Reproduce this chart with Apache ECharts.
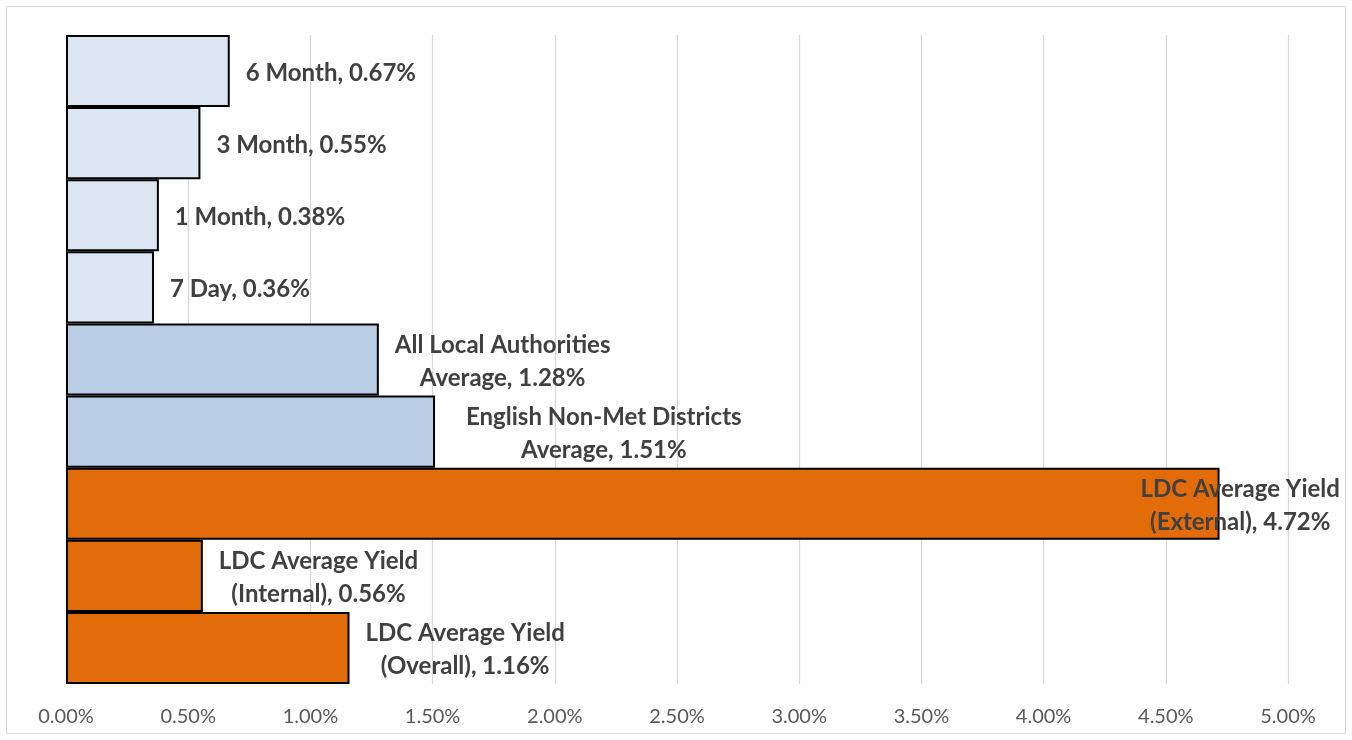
<!DOCTYPE html>
<html>
<head>
<meta charset="utf-8">
<script src="https://cdn.jsdelivr.net/npm/echarts@6/dist/echarts.min.js"></script>
<style>html,body{margin:0;padding:0;background:#fff}#c{width:1352px;height:740px}</style>
</head>
<body>
<div id="c"></div>
<script>
// categories from bottom to top
const categories = [
  'LDC Average Yield\n(Overall)',
  'LDC Average Yield\n(Internal)',
  'LDC Average Yield\n(External)',
  'English Non-Met Districts\nAverage',
  'All Local Authorities\nAverage',
  '7 Day',
  '1 Month',
  '3 Month',
  '6 Month'
];
const values = [1.16, 0.56, 4.72, 1.51, 1.28, 0.36, 0.38, 0.55, 0.67];
const groups = ['ldc', 'ldc', 'ldc', 'avg', 'avg', 'bench', 'bench', 'bench', 'bench'];
const tickLabels = ['0.00%','0.50%','1.00%','1.50%','2.00%','2.50%','3.00%','3.50%','4.00%','4.50%','5.00%'];

const colorMap = { ldc: '#e36c0a', avg: '#b9cde5', bench: '#dce6f2' };
const labelFont = 'Lato, "Open Sans", sans-serif';

const data = values.map((v, i) => {
  const name = categories[i];
  const lines = name.split('\n');
  lines[lines.length - 1] = lines[lines.length - 1] + ', ' + v.toFixed(2) + '%';
  const fmt = lines.map(l => '{c|' + l + '}').join('\n');
  const label = { formatter: fmt, distance: 16, offset: [0, 2] };
  if (i === 3) label.distance = 31;
  if (i === 2) { label.offset = [-95, 2]; }
  return {
    value: v,
    itemStyle: { color: colorMap[groups[i]] },
    label: label
  };
});

const chart = echarts.init(document.getElementById('c'), null, { renderer: 'canvas' });
chart.setOption({
  animation: false,
  backgroundColor: '#ffffff',
  graphic: [{
    type: 'rect', silent: true,
    shape: { x: 6.5, y: 6.5, width: 1339, height: 727 },
    style: { fill: 'none', stroke: '#d9d9d9', lineWidth: 1 }
  }],
  grid: { left: 66, right: 64, top: 35, bottom: 56, containLabel: false },
  xAxis: {
    type: 'value', min: 0, max: 5, interval: 0.5,
    axisLine: { show: false }, axisTick: { show: false },
    splitLine: { show: true, lineStyle: { color: '#d9d9d9', width: 1.3 } },
    axisLabel: {
      color: '#595959', fontSize: 20, fontFamily: labelFont, margin: 23,
      formatter: (v) => tickLabels[Math.round(v / 0.5)]
    }
  },
  yAxis: {
    type: 'category', data: categories,
    axisLine: { show: false }, axisTick: { show: false }, axisLabel: { show: false },
    splitLine: { show: false }
  },
  series: [{
    type: 'bar',
    data: data,
    barCategoryGap: '0%',
    itemStyle: { borderColor: '#000000', borderWidth: 2 },
    label: {
      show: true, position: 'right',
      color: '#404040', fontFamily: labelFont, fontWeight: 'bold', fontSize: 24,
      lineHeight: 33,
      rich: { c: { align: 'center', color: '#404040', fontFamily: labelFont, fontWeight: 'bold', fontSize: 24, lineHeight: 33 } }
    }
  }]
});
</script>
</body>
</html>
